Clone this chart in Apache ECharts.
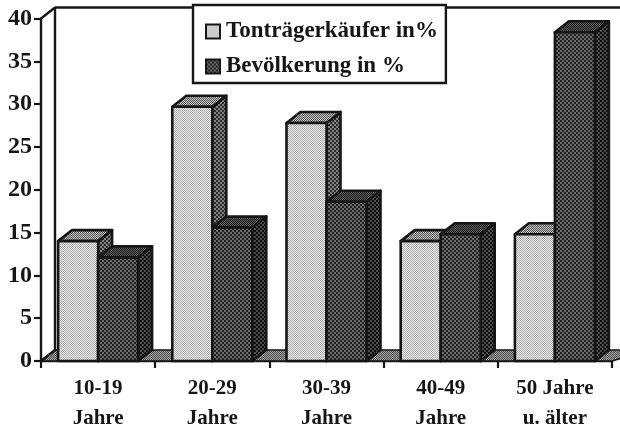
<!DOCTYPE html>
<html><head><meta charset="utf-8">
<style>html,body{margin:0;padding:0;background:#fff}#c{width:620px;height:427px;filter:blur(0.45px)}</style>
<script src="https://cdn.jsdelivr.net/npm/echarts@6/dist/echarts.min.js"></script>
</head><body><div id="c"></div>
<script>
var categories = ['10-19\nJahre','20-29\nJahre','30-39\nJahre','40-49\nJahre','50 Jahre\nu. älter'];
var kaeufer = [14,29.7,27.8,14,14.8];
var bevoelkerung = [12.1,15.6,18.6,14.8,38.4];
var yTicks = {min:0,max:40,interval:5};
var nameA = 'Tonträgerkäufer in%';
var nameB = 'Bevölkerung in %';

function pat(bg,fg,size){
  var c=document.createElement('canvas');c.width=c.height=size;
  var g=c.getContext('2d');g.fillStyle=bg;g.fillRect(0,0,size,size);g.fillStyle=fg;
  var h=size/2;g.fillRect(0,0,h,h);g.fillRect(h,h,h,h);
  return {image:c,repeat:'repeat'};
}
var P={
  lf:pat('#e8e8e8','#b0b0b0',2), ls:pat('#808080','#2c2c2c',4), lt:pat('#c4c4c4','#555',2),
  df:pat('#6a6a6a','#222',4), ds:pat('#4c4c4c','#0e0e0e',4), dt:pat('#5a5a5a','#1c1c1c',2),
  fl:pat('#a4a4a4','#4c4c4c',2)
};
var DX=14,DY=-11,W=40,INK='#161616';

function poly(pts,fill,lw){return {type:'polygon',shape:{points:pts},style:{fill:fill,stroke:INK,lineWidth:lw||2.6,lineJoin:'round'}};}
function barItem(front,side,top,sign){
  return function(params,api){
    var i=api.value(0),p=api.coord([i,api.value(1)]),b=api.coord([i,0]);
    var x0=sign<0?p[0]-W:p[0],x1=x0+W,y=p[1],y0=b[1];
    return {type:'group',children:[
      poly([[x1,y],[x1+DX,y+DY],[x1+DX,y0+DY],[x1,y0]],side),
      poly([[x0,y],[x0+DX,y+DY],[x1+DX,y+DY],[x1,y]],top),
      poly([[x0,y],[x1,y],[x1,y0],[x0,y0]],front)
    ]};
  };
}
function wallItem(params,api){
  var cs=params.coordSys,l=cs.x,r=cs.x+cs.width,t=cs.y,b=cs.y+cs.height;
  var line=function(a,c){return {type:'line',shape:{x1:a[0],y1:a[1],x2:c[0],y2:c[1]},style:{stroke:INK,lineWidth:2.4}};};
  return {type:'group',children:[
    {type:'polygon',shape:{points:[[l,b],[l+DX,b+DY],[622,b+DY],[622,b-3],[r,b]]},style:{fill:P.fl,stroke:INK,lineWidth:1.6}},
    line([l,t],[l+DX,t+DY]),line([l+DX,t+DY],[620,t+DY]),line([l+DX,t+DY],[l+DX,b+DY]),line([l,b],[l+DX,b+DY])
  ]};
}
var chart=echarts.init(document.getElementById('c'),null,{renderer:'canvas'});
chart.setOption({
  animation:false,
  textStyle:{fontFamily:'Liberation Serif'},
  grid:{left:41,width:571,top:18.5,height:342.5,outerBoundsMode:'none',containLabel:false},
  xAxis:{type:'category',data:categories,
    axisLine:{lineStyle:{color:INK,width:2.4}},
    axisTick:{show:true,length:7,lineStyle:{color:INK,width:2.2},alignWithLabel:false},
    axisLabel:{color:INK,fontFamily:'Liberation Serif',fontWeight:'bold',fontSize:21,lineHeight:30,margin:13,interval:0},
    splitLine:{show:false}},
  yAxis:{type:'value',min:yTicks.min,max:yTicks.max,interval:yTicks.interval,
    axisLine:{show:true,lineStyle:{color:INK,width:2.4}},
    axisTick:{show:true,length:7,lineStyle:{color:INK,width:2.2}},
    axisLabel:{color:INK,fontFamily:'Liberation Serif',fontWeight:'bold',fontSize:24,margin:9},
    splitLine:{show:false}},
  legend:{left:193,top:5,orient:'vertical',selectedMode:false,
    backgroundColor:'#fff',borderColor:INK,borderWidth:2.4,borderRadius:0,
    padding:[15,8,5,12],itemGap:12,itemWidth:14,itemHeight:14,icon:'rect',z:20,
    data:[nameA,nameB],
    textStyle:{color:INK,fontFamily:'Liberation Serif',fontWeight:'bold',fontSize:23,padding:[0,0,0,1]}},
  series:[
    {type:'custom',silent:true,clip:false,z:1,data:[[0,0]],encode:{x:0,y:1},renderItem:wallItem},
    {type:'custom',name:nameA,clip:false,z:2,encode:{x:0,y:1},itemStyle:{color:P.lf,borderColor:INK,borderWidth:2.4},
     data:kaeufer.map(function(v,i){return [i,v];}),renderItem:barItem(P.lf,P.ls,P.lt,-1)},
    {type:'custom',name:nameB,clip:false,z:3,encode:{x:0,y:1},itemStyle:{color:P.df,borderColor:INK,borderWidth:2.4},
     data:bevoelkerung.map(function(v,i){return [i,v];}),renderItem:barItem(P.df,P.ds,P.dt,1)}
  ]
});
</script></body></html>
